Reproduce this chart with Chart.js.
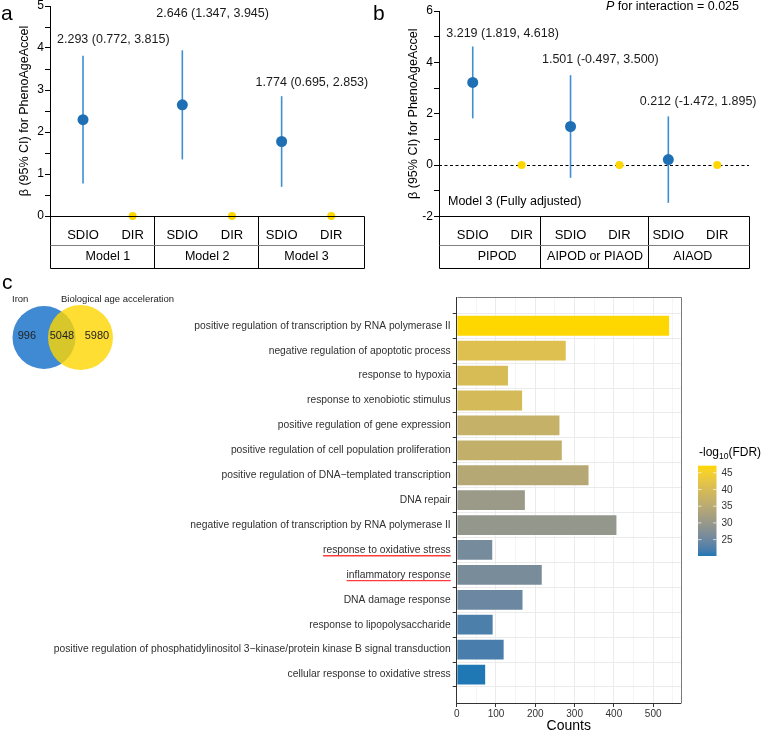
<!DOCTYPE html>
<html>
<head>
<meta charset="utf-8">
<script src="https://cdn.jsdelivr.net/npm/chart.js@4.4.1/dist/chart.umd.min.js"></script>
<style>
  html, body { margin: 0; padding: 0; background: #fff; }
  body { width: 764px; height: 733px; position: relative; overflow: hidden; }
  canvas { position: absolute; }
</style>
</head>
<body>
<canvas id="cBar" width="764" height="453" style="left:0;top:280px;width:764px;height:453px"></canvas>
<canvas id="cA" width="372" height="280" style="left:0;top:-10px;width:372px;height:280px"></canvas>
<canvas id="cB" width="392" height="280" style="left:372px;top:-10px;width:392px;height:280px"></canvas>
<canvas id="cVenn" width="200" height="125" style="left:0;top:270px;width:200px;height:125px"></canvas>
<script>
// ---- data ----
// panel a: SDIO vs DIR (reference), three models
const modelGroups = ['Model 1', 'Model 2', 'Model 3'];
const modelBeta = [2.293, 2.646, 1.774];
const modelLower = [0.772, 1.347, 0.695];
const modelUpper = [3.815, 3.945, 2.853];

// panel b: model 3 by pattern
const patternGroups = ['PIPOD', 'AIPOD or PIAOD', 'AIAOD'];
const patternBeta = [3.219, 1.501, 0.212];
const patternLower = [1.819, -0.497, -1.472];
const patternUpper = [4.618, 3.500, 1.895];

const exposures = ['SDIO', 'DIR'];
const refBeta = 0;
const yLabelsA = [0, 1, 2, 3, 4, 5];
const yLabelsB = [-2, 0, 2, 4, 6];

// panel c: venn
const vennSets = ['Iron', 'Biological age acceleration'];
const vennCounts = [996, 5048, 5980];   // iron only, both, age only

// panel c: GO terms
const goTerms = [
  'positive regulation of transcription by RNA polymerase II',
  'negative regulation of apoptotic process',
  'response to hypoxia',
  'response to xenobiotic stimulus',
  'positive regulation of gene expression',
  'positive regulation of cell population proliferation',
  'positive regulation of DNA\u2212templated transcription',
  'DNA repair',
  'negative regulation of transcription by RNA polymerase II',
  'response to oxidative stress',
  'inflammatory response',
  'DNA damage response',
  'response to lipopolysaccharide',
  'positive regulation of phosphatidylinositol 3\u2212kinase/protein kinase B signal transduction',
  'cellular response to oxidative stress'
];
const goCounts = [543, 280, 133, 169, 264, 270, 338, 176, 409, 93, 219, 170, 94, 122, 75];
const goFdr = [47.1, 41, 40, 39.5, 37, 36.5, 34.5, 30.5, 29.5, 26, 26.3, 24.8, 22.3, 22, 20.1];
const underlinedTerms = ['response to oxidative stress', 'inflammatory response'];
const countTicks = [0, 100, 200, 300, 400, 500];
const fdrTicks = [25, 30, 35, 40, 45];

// ---- style ----
const FONT = "'Liberation Sans', Arial, Helvetica, sans-serif";
const DOT_BLUE = '#1f6fb4';
const LINE_BLUE = '#3d8fd2';
const GOLD = '#ffd700';
const LOW_COL = '#1f78b4';
const HIGH_COL = '#ffd700';

Chart.defaults.font.family = FONT;
Chart.defaults.color = '#000';

// Lab interpolation, same idea as ggplot's gradient
function hexToLab(hex) {
  const n = parseInt(hex.slice(1), 16);
  const [r, g, b] = [(n >> 16) & 255, (n >> 8) & 255, n & 255].map(v => {
    v /= 255;
    return v <= 0.04045 ? v / 12.92 : Math.pow((v + 0.055) / 1.055, 2.4);
  });
  const X = (0.4124 * r + 0.3576 * g + 0.1805 * b) / 0.95047;
  const Y = 0.2126 * r + 0.7152 * g + 0.0722 * b;
  const Z = (0.0193 * r + 0.1192 * g + 0.9505 * b) / 1.08883;
  const f = t => t > 0.008856 ? Math.cbrt(t) : 7.787 * t + 16 / 116;
  return [116 * f(Y) - 16, 500 * (f(X) - f(Y)), 200 * (f(Y) - f(Z))];
}
function labToRgb(L, a, b) {
  const fy = (L + 16) / 116, fx = fy + a / 500, fz = fy - b / 200;
  const inv = t => t * t * t > 0.008856 ? t * t * t : (t - 16 / 116) / 7.787;
  const X = inv(fx) * 0.95047, Y = inv(fy), Z = inv(fz) * 1.08883;
  const lin = [
    3.2406 * X - 1.5372 * Y - 0.4986 * Z,
    -0.9689 * X + 1.8758 * Y + 0.0415 * Z,
    0.0557 * X - 0.2040 * Y + 1.0570 * Z
  ];
  const c = lin.map(v => {
    v = v <= 0.0031308 ? 12.92 * v : 1.055 * Math.pow(Math.max(v, 0), 1 / 2.4) - 0.055;
    return Math.round(Math.min(1, Math.max(0, v)) * 255);
  });
  return `rgb(${c[0]},${c[1]},${c[2]})`;
}
const labLow = hexToLab(LOW_COL), labHigh = hexToLab(HIGH_COL);
const fdrMin = Math.min(...goFdr), fdrMax = Math.max(...goFdr);
function fdrColor(v) {
  const t = (v - fdrMin) / (fdrMax - fdrMin);
  return labToRgb(...labLow.map((l, i) => l + (labHigh[i] - l) * t));
}

function line(ctx, x1, y1, x2, y2) {
  ctx.beginPath(); ctx.moveTo(x1, y1); ctx.lineTo(x2, y2); ctx.stroke();
}
const px = v => Math.round(v) + 0.5;

/**
 * Forest panel (a, b)
 */
function forestChart(id, groups, beta, lower, upper, opt) {
  const sdio = beta.map((b, i) => ({ x: 2 * i, y: b }));
  const dir = groups.map((g, i) => ({ x: 2 * i + 1, y: refBeta }));
  const ciLines = groups.map((g, i) => ({
    type: 'line',
    data: [{ x: 2 * i, y: lower[i] }, { x: 2 * i, y: upper[i] }],
    borderColor: LINE_BLUE,
    borderWidth: 1.6,
    pointRadius: 0,
    clip: false,
    order: 3
  }));

  const tablePlugin = {
    id: 'forestTable',
    beforeDatasetsDraw(chart) {
      if (!opt.dashedZero) return;
      const { ctx, chartArea: ca, scales: { y } } = chart;
      ctx.save();
      ctx.strokeStyle = '#000';
      ctx.lineWidth = 1;
      ctx.setLineDash([3, 2.5]);
      line(ctx, ca.left, px(y.getPixelForValue(0)), ca.right, px(y.getPixelForValue(0)));
      ctx.restore();
    },
    afterDraw(chart) {
      const { ctx, chartArea: ca, scales: { x, y } } = chart;
      const top = px(ca.bottom), mid = top + 29, bot = top + 52;
      const left = px(ca.left), right = px(ca.right);
      ctx.save();
      ctx.lineWidth = 1;
      ctx.strokeStyle = '#000';
      line(ctx, left, top, right, top);
      line(ctx, left, bot, right, bot);
      line(ctx, left, top, left, bot);
      line(ctx, right, top, right, bot);
      opt.seps.forEach(s => line(ctx, px(x.getPixelForValue(s)), top, px(x.getPixelForValue(s)), bot));
      ctx.strokeStyle = '#808080';
      line(ctx, left, mid, right, mid);

      ctx.fillStyle = '#000';
      ctx.textAlign = 'center';
      ctx.textBaseline = 'middle';
      groups.forEach((g, i) => {
        ctx.font = `13px ${FONT}`;
        exposures.forEach((e, k) => ctx.fillText(e, x.getPixelForValue(2 * i + k), top + 18.5));
        ctx.font = `12.5px ${FONT}`;
        ctx.fillText(g, x.getPixelForValue(2 * i + 0.5), top + 40.5);
      });

      // estimate labels
      ctx.font = `12.5px ${FONT}`;
      ctx.fillStyle = '#1a1a1a';
      groups.forEach((g, i) => {
        const txt = `${beta[i].toFixed(3)} (${lower[i].toFixed(3)}, ${upper[i].toFixed(3)})`;
        ctx.fillText(txt, x.getPixelForValue(2 * i + 0.61), y.getPixelForValue(upper[i]) - opt.labelLift[i]);
      });

      // panel letter
      ctx.font = `21px ${FONT}`;
      ctx.textAlign = 'left';
      ctx.textBaseline = 'alphabetic';
      ctx.fillStyle = '#000';
      ctx.fillText(opt.letter, opt.letterX, 30);

      if (opt.extra) opt.extra(ctx, chart);
      ctx.restore();
    }
  };

  return new Chart(document.getElementById(id), {
    type: 'scatter',
    data: {
      datasets: [
        { data: sdio, backgroundColor: DOT_BLUE, borderWidth: 0, pointRadius: 5.5, clip: false, order: 1 },
        { data: dir, backgroundColor: GOLD, borderWidth: 0, pointRadius: 4, clip: false, order: 1 },
        ...ciLines
      ]
    },
    options: {
      responsive: false,
      animation: false,
      events: [],
      layout: { padding: opt.padding, autoPadding: false },
      plugins: { legend: { display: false }, tooltip: { enabled: false } },
      scales: {
        x: { type: 'linear', display: false, min: opt.xMin, max: opt.xMax },
        y: {
          type: 'linear',
          min: opt.yMin,
          max: opt.yMax,
          afterFit: s => { s.width = opt.axisWidth; },
          afterBuildTicks: s => {
            const t = [];
            for (let v = opt.yMin; v <= opt.yMax + 1e-9; v += opt.minorStep) t.push({ value: Math.round(v * 100) / 100 });
            s.ticks = t;
          },
          ticks: {
            autoSkip: false,
            padding: 1,
            color: '#000',
            font: { size: 12 },
            callback: v => opt.yLabels.includes(v) ? String(v) : ''
          },
          grid: { drawOnChartArea: false, tickLength: 5, tickColor: '#000', color: '#000' },
          border: { color: '#000', width: 1 },
          title: {
            display: true,
            text: '\u03b2 (95% CI) for PhenoAgeAccel',
            color: '#000',
            font: { size: 12.5 },
            padding: { top: opt.titlePad, bottom: 0 }
          }
        }
      }
    },
    plugins: [tablePlugin]
  });
}

forestChart('cA', modelGroups, modelBeta, modelLower, modelUpper, {
  padding: { left: 0, top: 16, right: 7.7, bottom: 54 },
  axisWidth: 50, titlePad: 17,
  xMin: -0.665, xMax: 5.665,
  yMin: 0, yMax: 5, minorStep: 0.5, yLabels: yLabelsA,
  seps: [1.42, 3.52],
  labelLift: [16, 37, 14],
  letter: 'a', letterX: 1
});

forestChart('cB', patternGroups, patternBeta, patternLower, patternUpper, {
  padding: { left: 0, top: 21, right: 15, bottom: 53.6 },
  axisWidth: 67, titlePad: 34.3,
  xMin: -0.69, xMax: 5.65,
  yMin: -2, yMax: 6, minorStep: 1, yLabels: yLabelsB,
  seps: [1.37, 3.58],
  labelLift: [13, 16, 15],
  dashedZero: true,
  letter: 'b', letterX: 1,
  extra: (ctx, chart) => {
    ctx.font = `12.5px ${FONT}`;
    ctx.fillStyle = '#000';
    ctx.textBaseline = 'middle';
    ctx.textAlign = 'left';
    const rest = ' for interaction = 0.025';
    const wRest = ctx.measureText(rest).width;
    const xEnd = 367;
    ctx.fillText(rest, xEnd - wRest, 17);
    ctx.font = `italic 12.5px ${FONT}`;
    const wP = ctx.measureText('P').width;
    ctx.fillText('P', xEnd - wRest - wP, 17);
    ctx.font = `12.5px ${FONT}`;
    ctx.fillText('Model 3 (Fully adjusted)', 76, 212);
  }
});

/**
 * GO enrichment bar chart + colour bar
 */
const barDecor = {
  id: 'barDecor',
  afterDraw(chart) {
    const { ctx, chartArea: ca, scales: { y } } = chart;
    ctx.save();
    // panel border top / right
    ctx.strokeStyle = '#7a7a7a';
    ctx.lineWidth = 1;
    line(ctx, px(ca.left), px(ca.top), px(ca.right), px(ca.top));
    line(ctx, px(ca.right), px(ca.top), px(ca.right), px(ca.bottom));

    // red underlines
    ctx.font = `10.3px ${FONT}`;
    ctx.strokeStyle = '#ff3b3b';
    ctx.lineWidth = 1.3;
    const xr = y.right - 4 - 2;
    underlinedTerms.forEach(t => {
      const i = goTerms.indexOf(t);
      const w = ctx.measureText(t).width;
      const yy = y.getPixelForValue(i) + 5.8;
      line(ctx, xr - w, yy, xr, yy);
    });

    // colour bar
    const cb = { x: 698, w: 18.5, top: 185.7, bottom: 276 };
    const grad = ctx.createLinearGradient(0, cb.bottom, 0, cb.top);
    for (let k = 0; k <= 20; k++) grad.addColorStop(k / 20, fdrColor(fdrMin + (fdrMax - fdrMin) * k / 20));
    ctx.fillStyle = grad;
    ctx.fillRect(cb.x, cb.top, cb.w, cb.bottom - cb.top);
    const vy = v => cb.bottom - (v - fdrMin) / (fdrMax - fdrMin) * (cb.bottom - cb.top);
    ctx.strokeStyle = 'rgba(255,255,255,0.85)';
    ctx.lineWidth = 0.8;
    ctx.font = `10px ${FONT}`;
    ctx.fillStyle = '#333';
    ctx.textAlign = 'left';
    ctx.textBaseline = 'middle';
    fdrTicks.forEach(v => {
      const yy = vy(v);
      line(ctx, cb.x, yy, cb.x + 3.5, yy);
      line(ctx, cb.x + cb.w - 3.5, yy, cb.x + cb.w, yy);
      ctx.fillText(String(v), 721.5, yy + 0.5);
    });

    // colour bar title  -log10(FDR)
    ctx.fillStyle = '#000';
    let tx = 699;
    const ty = 173;
    ctx.font = `12px ${FONT}`;
    ctx.fillText('-log', tx, ty); tx += ctx.measureText('-log').width;
    ctx.font = `8.5px ${FONT}`;
    ctx.fillText('10', tx, ty + 3.5); tx += ctx.measureText('10').width;
    ctx.font = `12px ${FONT}`;
    ctx.fillText('(FDR)', tx, ty);
    ctx.restore();
  }
};

new Chart(document.getElementById('cBar'), {
  type: 'bar',
  data: {
    datasets: [{
      data: goCounts.map((c, i) => ({ x: c, y: i })),
      backgroundColor: goFdr.map(fdrColor),
      borderColor: 'rgba(255,255,255,0.5)',
      borderWidth: 1,
      categoryPercentage: 0.875,
      barPercentage: 1
    }]
  },
  options: {
    indexAxis: 'y',
    responsive: false,
    animation: false,
    events: [],
    layout: { padding: { left: 0, top: 17.3, right: 83.3, bottom: 0 }, autoPadding: false },
    plugins: { legend: { display: false }, tooltip: { enabled: false } },
    scales: {
      x: {
        type: 'linear',
        min: 0,
        max: 570,
        afterFit: s => { s.height = 30; },
        afterBuildTicks: s => {
          const t = [];
          for (let v = 0; v <= 550; v += 50) t.push({ value: v });
          s.ticks = t;
        },
        ticks: {
          autoSkip: false,
          maxRotation: 0,
          padding: 1,
          color: '#333',
          font: { size: 10 },
          callback: v => countTicks.includes(v) ? String(v) : ''
        },
        grid: {
          color: '#ebebeb',
          lineWidth: c => (c.tick && c.tick.value % 100 === 0) ? 1 : 0.5,
          tickColor: c => (c.tick && c.tick.value % 100 === 0) ? '#333' : 'rgba(0,0,0,0)',
          tickLength: 4
        },
        border: { color: '#333', width: 1 },
        title: { display: true, text: 'Counts', color: '#000', font: { size: 14, lineHeight: 1 }, padding: 0 }
      },
      y: {
        type: 'linear',
        reverse: true,
        min: -0.6,
        max: goTerms.length - 0.4,
        afterFit: s => { s.width = 456.7; },
        afterBuildTicks: s => { s.ticks = goTerms.map((t, i) => ({ value: i })); },
        ticks: {
          autoSkip: false,
          padding: 2,
          color: '#303030',
          font: { size: 10.3 },
          callback: v => goTerms[v]
        },
        grid: { color: '#ebebeb', lineWidth: 1, tickColor: '#333', tickLength: 4 },
        border: { color: '#333', width: 1 }
      }
    }
  },
  plugins: [barDecor]
});

/**
 * Venn diagram
 */
const vennText = {
  id: 'vennText',
  afterDraw(chart) {
    const { ctx, scales: { x, y } } = chart;
    ctx.save();
    ctx.fillStyle = '#000';
    ctx.font = `21px ${FONT}`;
    ctx.textBaseline = 'alphabetic';
    ctx.fillText('c', 2, 19);
    ctx.font = `9.5px ${FONT}`;
    ctx.fillStyle = '#222';
    ctx.textBaseline = 'middle';
    ctx.fillText(vennSets[0], x.getPixelForValue(0) - 32, 29);
    ctx.fillText(vennSets[1], x.getPixelForValue(1) - 19.5, 29);
    ctx.font = `11px ${FONT}`;
    ctx.textAlign = 'center';
    const cy = y.getPixelForValue(0) - 2;
    [-0.47, 0.49, 1.45].forEach((pos, i) => ctx.fillText(String(vennCounts[i]), x.getPixelForValue(pos), cy));
    ctx.restore();
  }
};

new Chart(document.getElementById('cVenn'), {
  type: 'bubble',
  data: {
    datasets: [
      { data: [{ x: 0, y: 0 }], radius: 31.5, backgroundColor: '#3f8ad2', borderWidth: 0, clip: false, order: 2 },
      { data: [{ x: 1, y: 0 }], radius: 32.5, backgroundColor: 'rgba(255,214,0,0.8)', borderWidth: 0, clip: false, order: 1 }
    ]
  },
  options: {
    responsive: false,
    animation: false,
    events: [],
    layout: { padding: { left: 7.5, right: 83, top: 47.5, bottom: 37.5 }, autoPadding: false },
    plugins: { legend: { display: false }, tooltip: { enabled: false } },
    scales: {
      x: { type: 'linear', display: false, min: -1, max: 2 },
      y: { type: 'linear', display: false, min: -1, max: 1 }
    }
  },
  plugins: [vennText]
});
</script>
</body>
</html>
